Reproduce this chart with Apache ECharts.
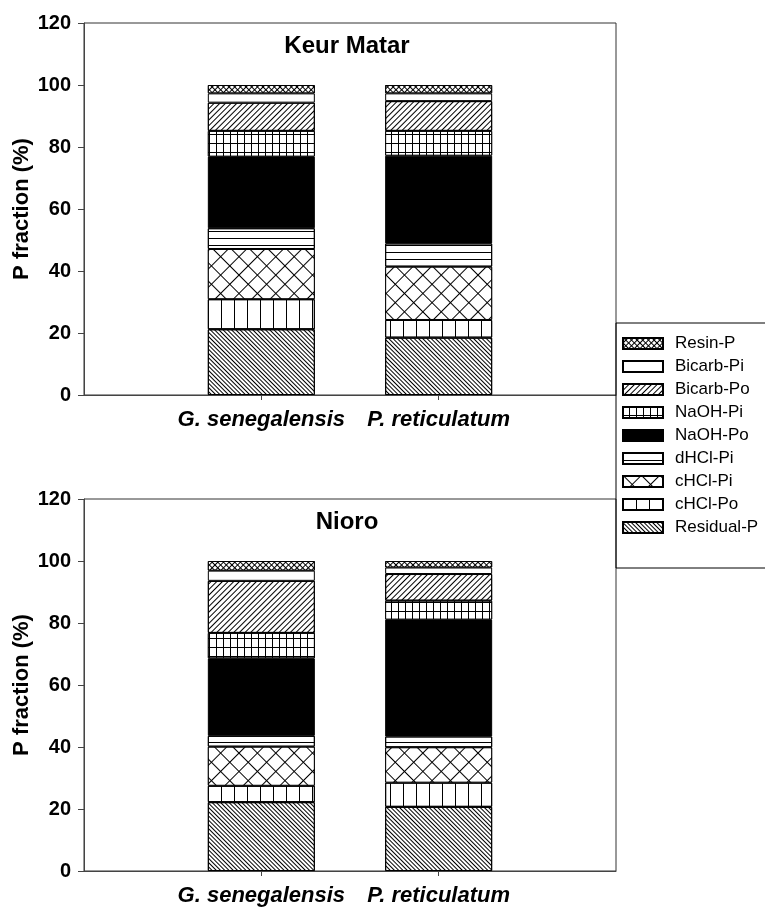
<!DOCTYPE html>
<html>
<head>
<meta charset="utf-8">
<script src="https://cdn.jsdelivr.net/npm/echarts@6/dist/echarts.min.js"></script>
<style>
html,body{margin:0;padding:0;background:#fff;}
#chart{width:765px;height:908px;}
</style>
</head>
<body>
<div id="chart"></div>
<script>
// ---- data ----
const categories = ['', 'G. senegalensis', 'P. reticulatum', ''];
const fractions = ['Residual-P', 'cHCl-Po', 'cHCl-Pi', 'dHCl-Pi', 'NaOH-Po', 'NaOH-Pi', 'Bicarb-Po', 'Bicarb-Pi', 'Resin-P'];
const legendOrder = ['Resin-P', 'Bicarb-Pi', 'Bicarb-Po', 'NaOH-Pi', 'NaOH-Po', 'dHCl-Pi', 'cHCl-Pi', 'cHCl-Po', 'Residual-P'];
const panelTitles = ['Keur Matar', 'Nioro'];
// values in fraction order (Residual-P ... Resin-P), %
const keurMatarG = [21.2, 9.7, 16.2, 6.7, 23.1, 8.3, 9.1, 3.0, 2.7];
const keurMatarP = [18.5, 5.7, 17.2, 7.5, 28.3, 8.0, 9.6, 2.5, 2.7];
const nioroG = [22.2, 5.3, 12.6, 3.5, 25.0, 8.2, 16.8, 3.3, 3.1];
const nioroP = [20.7, 7.8, 11.4, 3.5, 37.7, 6.1, 8.6, 2.1, 2.1];
const yTicks = { min: 0, max: 120, interval: 20 };

// ---- styles ----
const FONT = 'Liberation Sans, Arial, Helvetica, sans-serif';
const Q = Math.PI / 4;
const styles = {
  'Residual-P': { color: '#fff', decal: { symbol: 'rect', symbolSize: 1, color: '#000', dashArrayX: [1, 0], dashArrayY: [1, 2], rotation: Q } },
  'cHCl-Po':    { color: '#fff', decal: { symbol: 'rect', symbolSize: 1, color: '#000', dashArrayX: [1, 12], dashArrayY: [1, 0], rotation: 0 } },
  'cHCl-Pi':    { color: '#000', decal: { symbol: 'rect', symbolSize: 1, color: '#fff', dashArrayX: [12, 1], dashArrayY: [12, 1], rotation: Q } },
  'dHCl-Pi':    { color: '#fff', decal: { symbol: 'rect', symbolSize: 1, color: '#000', dashArrayX: [1, 0], dashArrayY: [1, 6], rotation: 0 } },
  'NaOH-Po':    { color: '#000', decal: null },
  'NaOH-Pi':    { color: '#000', decal: { symbol: 'rect', symbolSize: 1, color: '#fff', dashArrayX: [5.7, 1], dashArrayY: [7.3, 1], rotation: 0 } },
  'Bicarb-Po':  { color: '#fff', decal: { symbol: 'rect', symbolSize: 1, color: '#000', dashArrayX: [1, 0], dashArrayY: [1, 3], rotation: -Q } },
  'Bicarb-Pi':  { color: '#fff', decal: null },
  'Resin-P':    { color: '#000', decal: { symbol: 'rect', symbolSize: 1, color: '#fff', dashArrayX: [2.5, 1], dashArrayY: [2.5, 1], rotation: Q } }
};

const panels = [
  { g: keurMatarG, p: keurMatarP, top: 23 },
  { g: nioroG, p: nioroP, top: 499 }
];
const GRID_H = 372;

const grids = [], xAxes = [], yAxes = [], series = [], titles = [];
panels.forEach((pn, k) => {
  grids.push({ left: 84, width: 532, top: pn.top, height: GRID_H, show: true, borderColor: '#333', borderWidth: 1,
    backgroundColor: 'transparent', containLabel: false, outerBoundsMode: 'none' });
  xAxes.push({
    type: 'category', gridIndex: k, data: categories, boundaryGap: false,
    axisLine: { lineStyle: { color: '#444', width: 1 } },
    axisTick: { show: true, inside: false, length: 5, interval: (i) => i === 1 || i === 2, lineStyle: { color: '#444' } },
    axisLabel: { interval: 0, margin: 14, color: '#000', fontFamily: FONT, fontSize: 22, fontWeight: 'bold', fontStyle: 'italic' },
    splitLine: { show: false }
  });
  yAxes.push({
    type: 'value', gridIndex: k, min: yTicks.min, max: yTicks.max, interval: yTicks.interval,
    name: 'P fraction (%)', nameLocation: 'middle', nameGap: 51, nameMoveOverlap: false,
    nameTextStyle: { color: '#000', fontFamily: FONT, fontSize: 22, fontWeight: 'bold' },
    axisLine: { show: true, lineStyle: { color: '#444', width: 1 } },
    axisTick: { show: true, inside: false, length: 6, lineStyle: { color: '#444' } },
    axisLabel: { margin: 13, color: '#000', fontFamily: FONT, fontSize: 20, fontWeight: 'bold' },
    splitLine: { show: false }
  });
  titles.push({ text: panelTitles[k], left: 347, top: pn.top + 11, textAlign: 'center', padding: 0,
    textStyle: { fontFamily: FONT, fontSize: 24, fontWeight: 'bold', color: '#000' } });
  fractions.forEach((f, i) => {
    const st = styles[f];
    const itemStyle = { color: st.color, borderColor: '#000', borderWidth: 1 };
    if (st.decal) itemStyle.decal = st.decal;
    series.push({
      name: f, type: 'bar', stack: 'panel' + k, xAxisIndex: k, yAxisIndex: k,
      barWidth: 107, itemStyle: itemStyle, emphasis: { disabled: true },
      data: ['-', pn.g[i], pn.p[i], '-'], animation: false
    });
  });
});

const chart = echarts.init(document.getElementById('chart'), null, { renderer: 'canvas' });
chart.setOption({
  backgroundColor: '#fff',
  animation: false,
  title: titles,
  legend: {
    data: legendOrder, orient: 'vertical', left: 616, top: 323,
    padding: [12, 130, 32, 6], itemWidth: 40, itemHeight: 11, itemGap: 6,
    borderColor: '#000', borderWidth: 1, icon: 'rect', selectedMode: false,
    textStyle: { fontFamily: FONT, fontSize: 17, color: '#000', padding: [0, 0, 0, 7] }
  },
  grid: grids, xAxis: xAxes, yAxis: yAxes, series: series
});
</script>
</body>
</html>
